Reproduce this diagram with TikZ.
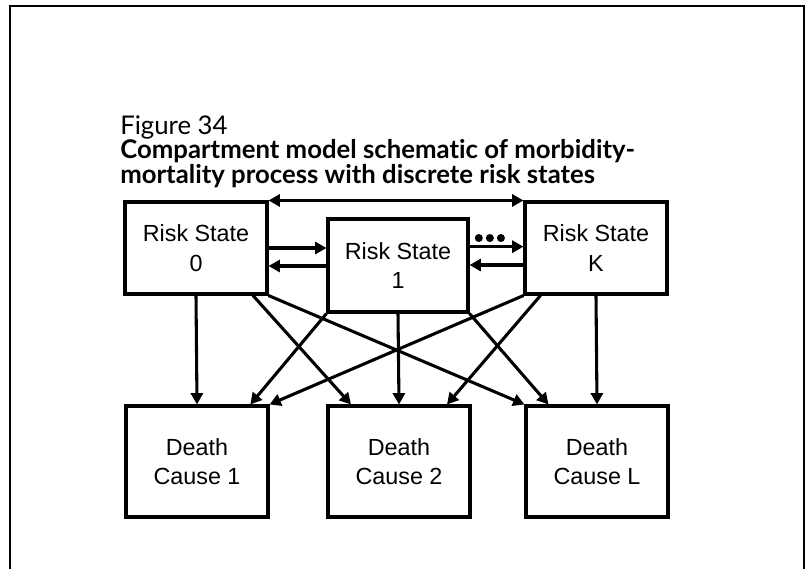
\documentclass[tikz,border=0pt]{standalone}
\usepackage{fontspec}
\setmainfont{Liberation Sans}
\newfontfamily\titlefont[Ligatures={NoCommon,NoRare,NoContextual}]{Lato}
\usetikzlibrary{arrows.meta}
\tikzset{
  box/.style={draw, line width=2.3pt, align=center, font=\fontsize{17.5}{22}\selectfont, inner sep=0pt},
  conn/.style={line width=2.3pt, -{Triangle[length=8.5pt,width=9pt]}},
  dconn/.style={line width=2.3pt, {Triangle[length=8.5pt,width=9pt]}-{Triangle[length=8.5pt,width=9pt]}},
  ttlline/.style={anchor=base west, inner sep=0pt, font=\titlefont\bfseries\fontsize{19.3}{22}\selectfont},
}
\begin{document}
\begin{tikzpicture}[x=0.75pt,y=-0.75pt]
\useasboundingbox (0,0) rectangle (810,569);
% frame
\draw[line width=2.2pt] (10,569) -- (10,6) -- (804,6) -- (804,569);
% title
\node[anchor=base west, inner sep=0pt, font=\titlefont\fontsize{19.3}{22}\selectfont] (fig) at (120,134) {Figure 34};
\node[ttlline] (ttl1) at (120,158.5) {Compartment model schematic of morbidity-};
\node[ttlline] (ttl2) at (120,183) {mortality process with discrete risk states};
% risk states
\node[box, minimum width=106.5pt, minimum height=69pt] (r0) at (196,248) {Risk State\\0};
\node[box, minimum width=105pt, minimum height=69.75pt] (r1) at (398,265.5) {Risk State\\1};
\node[box, minimum width=106.5pt, minimum height=69pt] (rK) at (596,248) {Risk State\\K};
% death causes
\node[box, minimum width=106.5pt, minimum height=83.25pt] (d1) at (197,461.5) {Death\\Cause 1};
\node[box, minimum width=106.5pt, minimum height=83.25pt] (d2) at (399,461.5) {Death\\Cause 2};
\node[box, minimum width=106.5pt, minimum height=83.25pt] (dL) at (597,461.5) {Death\\Cause L};
% transitions between risk states
\draw[dconn] (r0.north east) -- (rK.north west);
\draw[conn] (r0.east) -- (r0.east -| r1.west);
\draw[conn] ([yshift=-13.5pt]r0.east -| r1.west) -- ([yshift=-13.5pt]r0.east);
\draw[conn] ([yshift=1pt]rK.west -| r1.east) -- ([yshift=1pt]rK.west);
\draw[conn] ([yshift=-12.75pt]rK.west) -- ([yshift=-12.75pt]rK.west -| r1.east);
\fill ([xshift=-33.5pt,yshift=7.5pt]rK.west) circle (3pt)
      ([xshift=-25.2pt,yshift=7.5pt]rK.west) circle (3pt)
      ([xshift=-16.9pt,yshift=7.5pt]rK.west) circle (3pt);
% transitions to death
\draw[conn] (r0.south) -- (d1.north);
\draw[conn] (r1.south west) -- ([xshift=40pt]d1.north);
\draw[conn] (rK.south west) -- (d1.north east);
\draw[conn] ([xshift=42.75pt]r0.south) -- ([xshift=-36pt]d2.north);
\draw[conn] (r1.south) -- (d2.north);
\draw[conn] ([xshift=12.75pt]rK.south west) -- ([xshift=36pt]d2.north);
\draw[conn] (r0.south east) -- (dL.north west);
\draw[conn] (r1.south east) -- ([xshift=18pt]dL.north west);
\draw[conn] (rK.south) -- (dL.north);
\end{tikzpicture}
\end{document}
